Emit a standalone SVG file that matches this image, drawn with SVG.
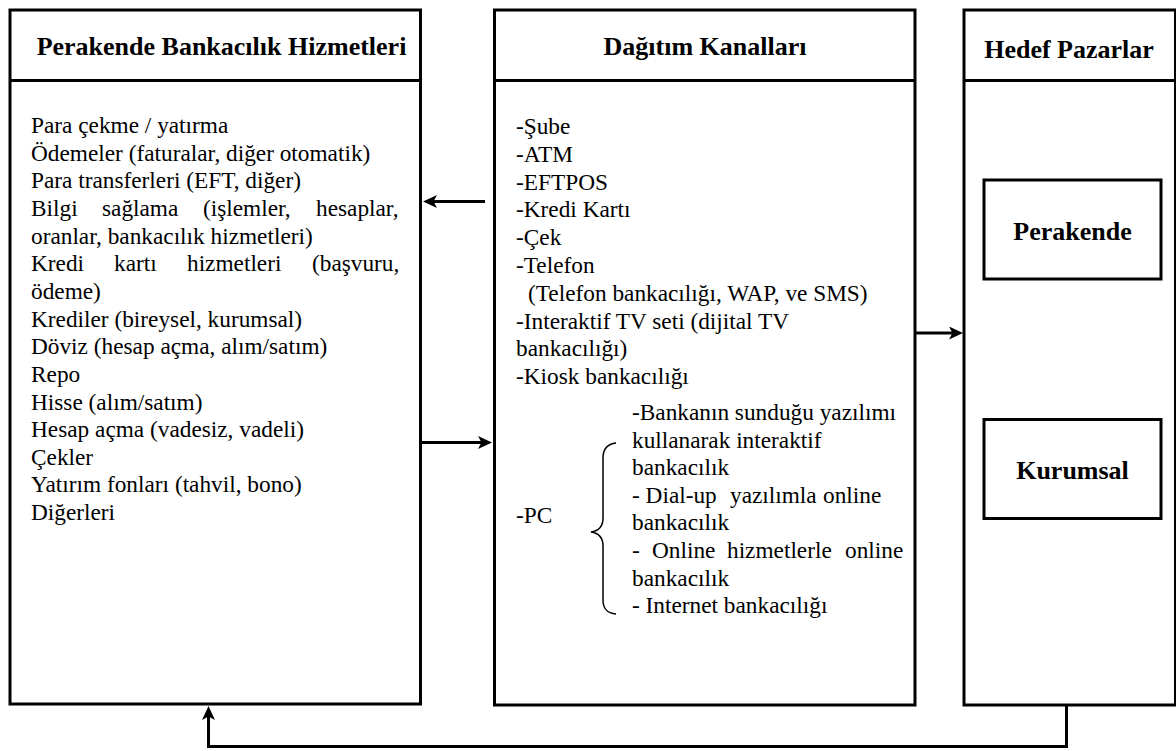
<svg xmlns="http://www.w3.org/2000/svg" width="1176" height="751" viewBox="0 0 1176 751">
  <style>
    .box { fill: #ffffff; stroke: #000000; stroke-width: 3; }
    .rule { stroke: #000000; stroke-width: 3; fill: none; }
    .head { font-family: 'Liberation Serif', Times, 'Nimbus Roman', 'DejaVu Serif', serif; font-size: 26px; font-weight: bold; fill: #000000; }
    .body { font-family: 'Liberation Serif', Times, 'Nimbus Roman', 'DejaVu Serif', serif; font-size: 23.3px; fill: #000000; }
    .link { stroke: #000000; stroke-width: 3; fill: none; }
    .brace { stroke: #000000; stroke-width: 1.5; fill: none; }
  </style>
  <defs>
    <marker id="head" viewBox="0 0 14 13" refX="8" refY="6.5" markerWidth="14" markerHeight="13" markerUnits="userSpaceOnUse" orient="auto">
      <path d="M0,0 L14,6.5 L0,13 L3.5,6.5 z" fill="#000000"/>
    </marker>
  </defs>

  <rect width="1176" height="751" fill="#ffffff"/>

  <!-- Retail banking services -->
  <g id="services">
    <rect class="box" x="10" y="10" width="410.5" height="694"/>
    <line class="rule" x1="10" y1="80.5" x2="420.5" y2="80.5"/>
    <text class="head" x="221.5" y="55" text-anchor="middle">Perakende Bankacılık Hizmetleri</text>
    <text class="body" x="31" y="133">Para çekme / yatırma</text>
    <text class="body" x="31" y="160.65">Ödemeler (faturalar, diğer otomatik)</text>
    <text class="body" x="31" y="188.3">Para transferleri (EFT, diğer)</text>
    <text class="body" y="215.95"><tspan x="31">Bilgi</tspan><tspan x="102">sağlama</tspan><tspan x="203">(işlemler,</tspan><tspan x="316">hesaplar,</tspan></text>
    <text class="body" x="31" y="243.6">oranlar, bankacılık hizmetleri)</text>
    <text class="body" y="271.25"><tspan x="31">Kredi</tspan><tspan x="114">kartı</tspan><tspan x="187">hizmetleri</tspan><tspan x="312">(başvuru,</tspan></text>
    <text class="body" x="31" y="298.9">ödeme)</text>
    <text class="body" x="31" y="326.55">Krediler (bireysel, kurumsal)</text>
    <text class="body" x="31" y="354.2">Döviz (hesap açma, alım/satım)</text>
    <text class="body" x="31" y="381.85">Repo</text>
    <text class="body" x="31" y="409.5">Hisse (alım/satım)</text>
    <text class="body" x="31" y="437.15">Hesap açma (vadesiz, vadeli)</text>
    <text class="body" x="31" y="464.8">Çekler</text>
    <text class="body" x="31" y="492.45">Yatırım fonları (tahvil, bono)</text>
    <text class="body" x="31" y="520.1">Diğerleri</text>
  </g>

  <!-- Distribution channels -->
  <g id="channels">
    <rect class="box" x="494.5" y="10" width="420.5" height="695"/>
    <line class="rule" x1="494.5" y1="80.5" x2="915" y2="80.5"/>
    <text class="head" x="705" y="55" text-anchor="middle">Dağıtım Kanalları</text>
    <text class="body" x="516" y="134">-Şube</text>
    <text class="body" x="516" y="161.8">-ATM</text>
    <text class="body" x="516" y="189.6">-EFTPOS</text>
    <text class="body" x="516" y="217.4">-Kredi Kartı</text>
    <text class="body" x="516" y="245.2">-Çek</text>
    <text class="body" x="516" y="273">-Telefon</text>
    <text class="body" x="528" y="300.8">(Telefon bankacılığı, WAP, ve SMS)</text>
    <text class="body" x="516" y="328.6">-Interaktif TV seti (dijital TV</text>
    <text class="body" x="516" y="356.4">bankacılığı)</text>
    <text class="body" x="516" y="384.2">-Kiosk bankacılığı</text>
    <text class="body" x="516" y="523">-PC</text>
    <path class="brace" d="M616,443 C607,444 603,449 603,458 L603,518 C603,527 598,531 591,532 C598,533 603,537 603,546 L603,600 C603,609 607,613 616,614"/>
    <text class="body" x="632" y="420">-Bankanın sunduğu yazılımı</text>
    <text class="body" x="632" y="447.6">kullanarak interaktif</text>
    <text class="body" x="632" y="475.2">bankacılık</text>
    <text class="body" y="502.8"><tspan x="632">- Dial-up</tspan><tspan x="730">yazılımla</tspan><tspan x="823">online</tspan></text>
    <text class="body" x="632" y="530.4">bankacılık</text>
    <text class="body" y="558"><tspan x="632">-</tspan><tspan x="652">Online</tspan><tspan x="727">hizmetlerle</tspan><tspan x="845">online</tspan></text>
    <text class="body" x="632" y="585.6">bankacılık</text>
    <text class="body" x="632" y="613.2">- Internet bankacılığı</text>
  </g>

  <!-- Target markets -->
  <g id="markets">
    <rect class="box" x="964" y="10" width="211.5" height="695"/>
    <line class="rule" x1="964" y1="80.5" x2="1175.5" y2="80.5"/>
    <text class="head" x="1069" y="58" text-anchor="middle">Hedef Pazarlar</text>
  </g>
  <g id="retail">
    <rect class="box" x="984" y="180" width="177" height="99"/>
    <text class="head" x="1072.5" y="240" text-anchor="middle">Perakende</text>
  </g>
  <g id="corporate">
    <rect class="box" x="984" y="419.5" width="177" height="99"/>
    <text class="head" x="1072.5" y="479" text-anchor="middle">Kurumsal</text>
  </g>

  <!-- Connectors -->
  <g id="connectors">
    <line class="link" x1="485" y1="201.5" x2="429" y2="201.5" marker-end="url(#head)"/>
    <line class="link" x1="422" y1="442.5" x2="486" y2="442.5" marker-end="url(#head)"/>
    <line class="link" x1="916" y1="333" x2="957" y2="333" marker-end="url(#head)"/>
    <polyline class="link" points="1066.5,706 1066.5,746.5 208.5,746.5 208.5,712" marker-end="url(#head)"/>
  </g>
</svg>
